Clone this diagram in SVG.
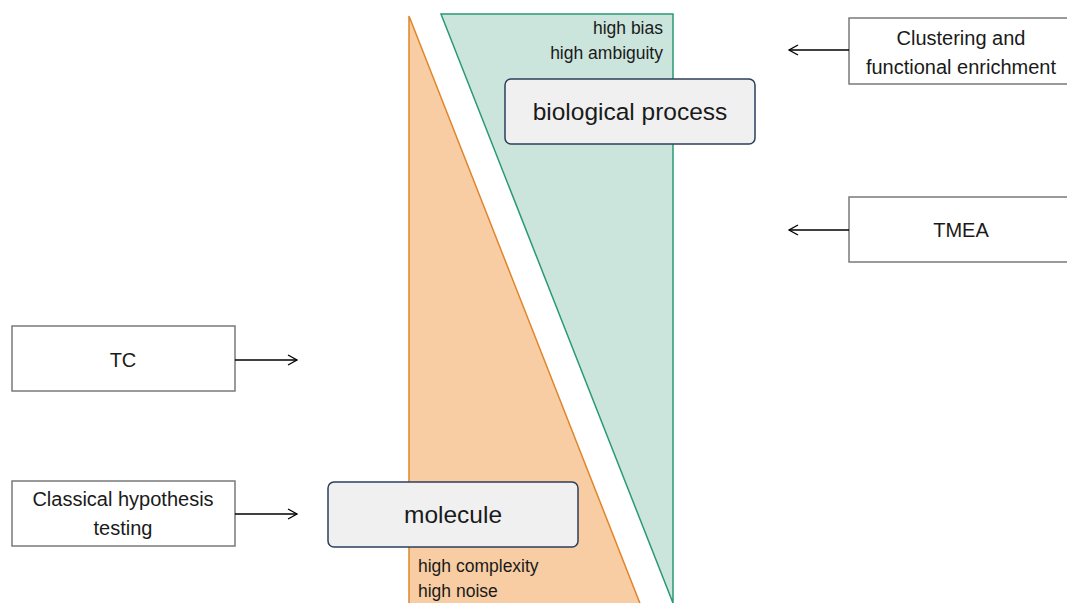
<svg xmlns="http://www.w3.org/2000/svg" width="1067" height="603" viewBox="0 0 1067 603">
<defs>
<marker id="arr" markerWidth="12" markerHeight="12" refX="10" refY="6" orient="auto" markerUnits="userSpaceOnUse">
<path d="M1,1 L10,6 L1,11" fill="none" stroke="#000" stroke-width="1.3"/>
</marker>
<style>
text{font-family:"Liberation Sans",Arial,sans-serif;fill:#1a1a1a}
.box{fill:#fff;stroke:#7a7a7a;stroke-width:1.5}
.lvl{fill:#f0f0f0;stroke:#2d3e5c;stroke-width:1.5}
.c{text-anchor:middle}
.conn{stroke:#000;stroke-width:1.3;fill:none;marker-end:url(#arr)}
</style>
</defs>
<rect width="1067" height="603" fill="#fff"/>
<g id="orange-triangle"><polygon points="409,16 641,606 409,606" fill="#f8cda3" stroke="#e0852a" stroke-width="1.5"/></g>
<g id="green-triangle"><polygon points="441,14 673,14 673,603 441,14" fill="#cce5dc" stroke="#2a9a70" stroke-width="1.5"/></g>
<g id="bias-label"><text x="663" y="34" font-size="17.5" text-anchor="end">high bias</text><text x="663" y="59" font-size="17.5" text-anchor="end">high ambiguity</text></g>
<g id="noise-label"><text x="418" y="572" font-size="17.5">high complexity</text><text x="418" y="597" font-size="17.5">high noise</text></g>
<g id="biological-process"><rect class="lvl" x="505" y="79" width="250" height="65" rx="6"/><text class="c" x="630" y="120" font-size="24.5">biological process</text></g>
<g id="molecule"><rect class="lvl" x="328" y="482" width="250" height="65" rx="6"/><text class="c" x="453" y="523" font-size="24.5">molecule</text></g>
<g id="clustering"><rect class="box" x="849" y="18" width="225" height="66"/><text class="c" x="961" y="45" font-size="20">Clustering and</text><text class="c" x="961" y="74" font-size="20">functional enrichment</text></g>
<g id="tmea"><rect class="box" x="849" y="197" width="225" height="65"/><text class="c" x="961" y="237" font-size="20">TMEA</text></g>
<g id="tc"><rect class="box" x="12" y="326" width="223" height="65"/><text class="c" x="123" y="367" font-size="20">TC</text></g>
<g id="classical"><rect class="box" x="12" y="481" width="223" height="65"/><text class="c" x="123" y="506" font-size="20">Classical hypothesis</text><text class="c" x="123" y="535" font-size="20">testing</text></g>
<g id="connectors">
<line class="conn" x1="849" y1="50" x2="789" y2="50"/>
<line class="conn" x1="849" y1="230" x2="789" y2="230"/>
<line class="conn" x1="235" y1="360" x2="297" y2="360"/>
<line class="conn" x1="235" y1="514" x2="297" y2="514"/>
</g>
</svg>
